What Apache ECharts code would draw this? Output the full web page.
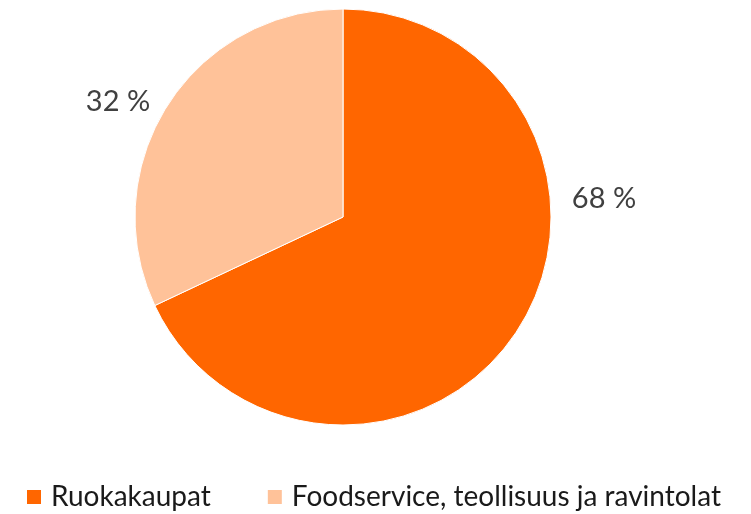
<!DOCTYPE html>
<html><head><meta charset="utf-8">
<script src="https://cdn.jsdelivr.net/npm/echarts@6/dist/echarts.min.js"></script>
<style>html,body{margin:0;padding:0;background:#fff}#c{width:751px;height:514px}</style>
</head><body><div id="c"></div>
<script>
const categories = ["Ruokakaupat", "Foodservice, teollisuus ja ravintolat"];
const values = [68, 32];
const colors = ["#FF6600", "#FFC299"];
const labelPos = [[604, 199], [118, 102]];

const chart = echarts.init(document.getElementById('c'), null, {renderer: 'canvas'});
chart.setOption({
  animation: false,
  color: colors,
  legend: {
    left: 20, top: 478, padding: 5,
    itemWidth: 16, itemHeight: 16, itemGap: 55,
    icon: 'rect',
    textStyle: {fontFamily: 'Lato', fontSize: 28, color: '#1a1a1a', padding: [0, 0, 0, 4]},
    data: categories
  },
  series: [{
    type: 'pie',
    center: [343, 217],
    radius: [0, 208],
    startAngle: 90,
    clockwise: true,
    itemStyle: {borderColor: '#fff', borderWidth: 1},
    label: {
      show: true, position: 'outside',
      formatter: p => p.value + ' %',
      fontFamily: 'Lato', fontSize: 29, color: '#404040'
    },
    labelLine: {show: false},
    labelLayout: p => ({x: labelPos[p.dataIndex][0], y: labelPos[p.dataIndex][1], align: 'center', verticalAlign: 'middle'}),
    data: categories.map((n, i) => ({name: n, value: values[i]}))
  }]
});
</script></body></html>
